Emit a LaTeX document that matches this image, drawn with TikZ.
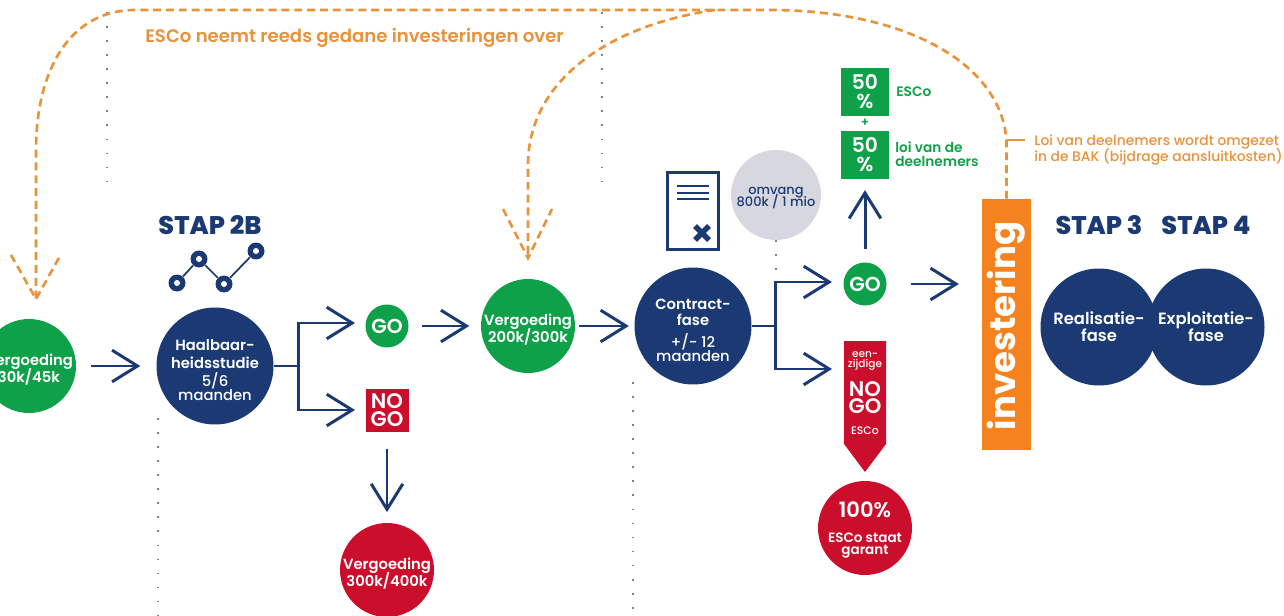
\documentclass[tikz,border=0pt]{standalone}
\usepackage{fontspec}
\setmainfont{Poppins}[BoldFont=Poppins SemiBold]
\newfontfamily\medfont{Poppins Medium}
\newfontfamily\heavyfont{Poppins ExtraBold}
\newfontfamily\vetfont{Poppins Bold}
\usetikzlibrary{arrows.meta}
\definecolor{navy}{HTML}{1B3A73}
\definecolor{grn}{HTML}{0FA04A}
\definecolor{rood}{HTML}{CB0E2B}
\definecolor{oranje}{HTML}{F5821F}
\definecolor{oranjelijn}{HTML}{E8923A}
\definecolor{grijs}{HTML}{D6D7DF}
\newcommand{\tekst}[2]{\fontsize{#1}{#2}\selectfont\lineskiplimit=-20pt\relax}
\newcommand{\zak}[1]{\rule{0pt}{#1}}
\tikzset{
  bigdot/.style={circle,fill=navy,text=white,minimum size=2.34cm,inner sep=0pt,align=center,font=\tekst{8.4}{9.4}\bfseries},
  vergdot/.style={circle,text=white,minimum size=1.88cm,inner sep=-3pt,align=center,font=\tekst{8.4}{9.6}\bfseries},
  godot/.style={circle,fill=grn,text=white,minimum size=.86cm,inner sep=0pt,font=\tekst{11.5}{12}\bfseries},
  pctbox/.style={fill=grn,text=white,minimum size=.97cm,inner sep=0pt,align=center,font=\tekst{11.5}{10.8}\bfseries},
  staplabel/.style={text=navy,inner sep=0pt,font=\tekst{14.5}{15}\heavyfont},
  greenlabel/.style={text=grn,inner sep=0pt,anchor=west,align=left,font=\tekst{7.8}{8.2}\bfseries},
  orangelabel/.style={text=oranjelijn,inner sep=0pt,anchor=west,align=left,font=\tekst{7.9}{8.6}\medfont},
  flow/.style={draw=navy,line width=1.7pt,-{Straight Barb[length=14.5pt,width=18pt,line width=1.7pt]}},
  orangedash/.style={draw=oranjelijn,line width=1.5pt,dash pattern=on 4.5pt off 2.8pt},
  dotline/.style={draw=gray,line width=.8pt,dash pattern=on 1pt off 7pt},
  netdot/.style={circle,fill=navy,minimum size=.34cm,inner sep=0pt},
  netlink/.style={navy,line width=1pt}
}
\begin{document}
\begin{tikzpicture}[x=.02cm,y=-.02cm]
\useasboundingbox (0,0) rectangle (1284,615);
% dotted guides
\coordinate (guide1a) at (107,12);
\coordinate (guide1b) at (107,192);
\coordinate (guide2a) at (602,12);
\coordinate (guide2b) at (602,192);
\coordinate (guide3a) at (158,418);
\coordinate (guide3b) at (158,615);
\coordinate (guide4a) at (633,382);
\coordinate (guide4b) at (633,610);
\draw[dotline] (guide1a) -- (guide1b);
\draw[dotline] (guide2a) -- (guide2b);
\draw[dotline] (guide3a) -- (guide3b);
\draw[dotline] (guide4a) -- (guide4b);
% circles
\node[vergdot,fill=grn] (verg1) at (29,366) {\zak{10.8pt}Vergoeding\\30k/45k};
\node[bigdot] (haal) at (215,366) {\zak{10.8pt}Haalbaar-\\[1pt]heidsstudie\\[1pt]{\medfont\mdseries 5/6}\\[-1.4pt]{\medfont\mdseries maanden}};
\node[godot] (go1) at (387,326) {GO};
\node[fill=rood,text=white,minimum size=.86cm,inner sep=0pt,align=center,font=\tekst{12}{10}\bfseries] (nogo1) at (387,410) {NO\\GO};
\node[vergdot,fill=rood] (verg3) at (387,570) {\zak{10.8pt}Vergoeding\\300k/400k};
\node[vergdot,fill=grn] (verg2) at (528,326) {\zak{10.8pt}Vergoeding\\200k/300k};
\node[bigdot] (contract) at (693,326) {\zak{10.8pt}Contract-\\fase\\[3pt]{\medfont\mdseries +/- 12}\\[-1.4pt]{\medfont\mdseries maanden}};
\node[circle,fill=grijs,text=navy,minimum size=1.8cm,inner sep=0pt,align=center,font=\tekst{7.4}{7}\medfont] (omvang) at (776,195) {\zak{7.4pt}omvang\\800k / 1 mio};
\node[godot] (go2) at (865,284) {GO};
\node[pctbox] (pct1) at (865,92) {50\\\%};
\node[pctbox] (pct2) at (865,155) {50\\\%};
\node[text=grn,inner sep=0pt,font=\tekst{7}{7}\bfseries] (plus) at (865,123) {+};
\node[greenlabel] (esco) at (896,92) {ESCo};
\node[greenlabel] (loi) at (895,154) {loi van de\\deelnemers};
\node[fill=oranje,minimum width=.98cm,minimum height=5.02cm,inner sep=0pt] (inv) at (1006.5,324.5) {};
\node[text=white,inner sep=0pt,rotate=90,font=\tekst{20.2}{20}\vetfont] (invtext) at (1006.5,326) {investering};
\node[bigdot,font=\tekst{9.3}{9.6}\bfseries] (real) at (1099,327) {Realisatie-\\fase};
\node[bigdot,font=\tekst{9.3}{9.6}\bfseries] (expl) at (1206,327) {Exploitatie-\\fase};
\node[staplabel] (stap2b) at (210,225) {STAP 2B};
\node[staplabel] (stap3) at (1099,225) {STAP 3};
\node[staplabel] (stap4) at (1206,225) {STAP 4};
% red flag
\fill[rood] (844,341) -- (886,341) -- (886,444) -- (865,472) -- (844,444) -- cycle;
\node[text=white,inner sep=0pt,align=center,font=\tekst{6}{5.4}\medfont] (eenz) at (865,361) {een-\\zijdige};
\node[text=white,inner sep=0pt,align=center,font=\tekst{12}{9.6}\bfseries] (nogo2) at (865,398) {NO\\GO};
\node[text=white,inner sep=0pt,font=\tekst{6.2}{6.2}\medfont] (escoflag) at (865,431) {ESCo};
\node[vergdot,fill=rood,font=\tekst{7.7}{6.9}\bfseries] (garant) at (865,528) {{\tekst{12}{12}\bfseries\zak{11.4pt}100\%}\\[7pt]ESCo staat\\garant};
% document icon
\node[draw=navy,line width=1.6pt,minimum width=1.02cm,minimum height=1.54cm,inner sep=0pt] (doc) at (693,211) {};
\foreach \y in {186,193,199}
  \draw[navy,line width=1.5pt] (677,\y) -- (709,\y);
\draw[navy,line width=3.2pt] (695,226) -- (709,240);
\draw[navy,line width=3.2pt] (709,226) -- (695,240);
% network icon
\node[netdot] (net1) at (177,283) {};
\node[netdot] (net2) at (199,259) {};
\node[netdot] (net3) at (224,284) {};
\node[netdot] (net4) at (256,251) {};
\foreach \n in {net1,net2,net3,net4}
  \fill[white] (\n) circle (3);
\draw[netlink] (net1) -- (net2);
\draw[netlink] (net2) -- (net3);
\draw[netlink] (net3) -- (net4);
% arrows
\coordinate (go1in) at (355,323);
\coordinate (nogo1in) at (355,410);
\coordinate (go2in) at (832,282);
\coordinate (flagin) at (832,369);
\draw[flow,shorten <=8.5pt,shorten >=9pt] (verg1) -- (haal);
\draw[flow] (haal.east) -- ++(25,0) |- (go1in);
\draw[flow] (haal.east) -- ++(25,0) |- (nogo1in);
\draw[flow,shorten <=7.5pt,shorten >=6.5pt] (go1) -- (verg2);
\draw[flow,shorten <=2pt,shorten >=3pt] (verg2) -- (contract);
\draw[flow] (contract.east) -- ++(24,0) |- (go2in);
\draw[flow] (contract.east) -- ++(24,0) |- (flagin);
\draw[flow,shorten <=10pt,shorten >=6pt] (nogo1) -- (verg3);
\draw[flow,shorten <=7.5pt,shorten >=6pt] (go2) -- (pct2);
\draw[flow,shorten <=13.5pt,shorten >=13pt] (go2) -- (go2 -| inv.west);
\coordinate (go2elbow) at (776,282);
\draw[dotline] (omvang) -- (go2elbow);
% dashed returns
\coordinate (tip1) at (36,299);
\coordinate (tip2) at (528,258);
\coordinate (bend) at (1006.5,140);
\draw[orangedash] (inv.north) -- (bend) .. controls (1000,60) and (900,10) .. (770,10) -- (135,10) .. controls (70,10) and (36,70) .. (36,150) -- (tip1);
\draw[orangedash] (715,10) .. controls (610,25) and (528,80) .. (528,165) -- (tip2);
\draw[orangedash] (11,255) -- (tip1) -- (60,256);
\draw[orangedash] (503,209) -- (tip2) -- (552,209);
\draw[draw=oranjelijn,line width=1.5pt] (bend) -- (1025,140);
\node[orangelabel,font=\tekst{10.3}{11}\bfseries] (overname) at (145,38) {ESCo neemt reeds gedane investeringen over};
\node[orangelabel] (baklabel) at (1034,150) {Loi van deelnemers wordt omgezet\\in de BAK (bijdrage aansluitkosten)};
\end{tikzpicture}
\end{document}
